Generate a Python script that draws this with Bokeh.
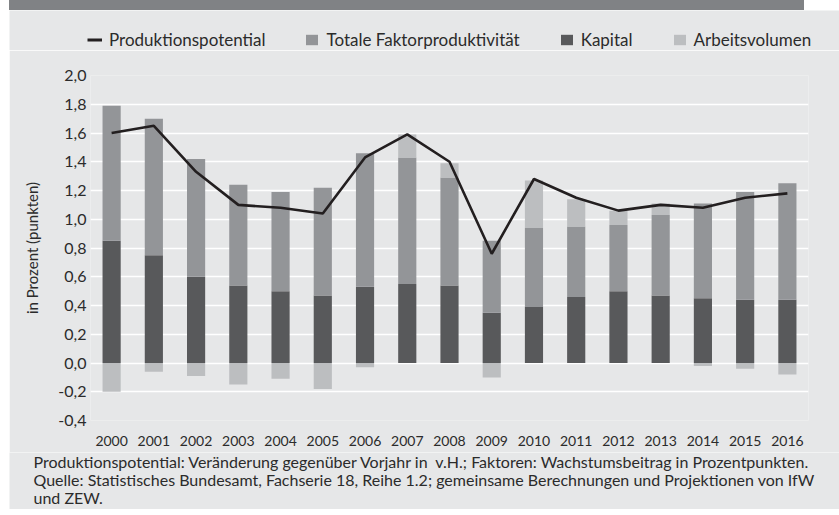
import numpy as np
from bokeh.plotting import figure
from bokeh.layouts import column
from bokeh.models import (Range1d, FactorRange, FixedTicker, CustomJSTickFormatter,
                          Legend, LegendItem, Label, Div, ColumnDataSource)
from bokeh.embed import file_html
from bokeh.resources import INLINE

years = ["2000", "2001", "2002", "2003", "2004", "2005", "2006", "2007", "2008",
         "2009", "2010", "2011", "2012", "2013", "2014", "2015", "2016"]
potential = [1.60, 1.65, 1.33, 1.10, 1.08, 1.04, 1.43, 1.59, 1.40,
             0.76, 1.28, 1.15, 1.06, 1.10, 1.08, 1.15, 1.18]
kapital = [0.85, 0.75, 0.60, 0.54, 0.50, 0.47, 0.53, 0.55, 0.54,
           0.35, 0.39, 0.46, 0.50, 0.47, 0.45, 0.44, 0.44]
tfp = [0.94, 0.95, 0.82, 0.70, 0.69, 0.75, 0.93, 0.88, 0.75,
       0.50, 0.55, 0.49, 0.46, 0.56, 0.66, 0.75, 0.81]
arbeit = [-0.20, -0.06, -0.09, -0.15, -0.11, -0.18, -0.03, 0.16, 0.10,
          -0.10, 0.33, 0.19, 0.10, 0.08, -0.02, -0.04, -0.08]
y_ticks = [-0.4, -0.2, 0.0, 0.2, 0.4, 0.6, 0.8, 1.0, 1.2, 1.4, 1.6, 1.8, 2.0]
series_names = ["Produktionspotential", "Totale Faktorproduktivität", "Kapital", "Arbeitsvolumen"]

caption_lines = [
    "Produktionspotential: Veränderung gegenüber Vorjahr in\u00a0 v.H.; Faktoren: Wachstumsbeitrag in Prozentpunkten.",
    "Quelle: Statistisches Bundesamt, Fachserie 18, Reihe 1.2; gemeinsame Berechnungen und Projektionen von IfW",
    "und ZEW.",
]

BG = "#e6e7e8"
C_K = "#58595b"
C_T = "#939598"
C_A = "#bcbec0"
C_L = "#231f20"
TXT = "#2b2b2b"
FONT = "Lato"
FIG_W = 830
LEFT_PAD = (0, 0, 0, 9)


def blank_fig(height):
    f = figure(width=FIG_W, height=height, x_range=Range1d(0, FIG_W), y_range=Range1d(0, height),
               x_axis_type=None, y_axis_type=None, output_backend="svg", toolbar_location=None,
               min_border=0, margin=LEFT_PAD, frame_align=False)
    f.background_fill_color = BG
    f.border_fill_color = BG
    f.outline_line_color = None
    f.xgrid.visible = False
    f.ygrid.visible = False
    return f


# ---- legend strip (swatch renderers sit outside the visible range) ----
leg_fig = blank_fig(40)
d_l = leg_fig.line(x=[-60, -50], y=[-60, -60], line_color=C_L, line_width=3)
d_t = leg_fig.vbar(x=[-60], bottom=[-60], top=[-50], width=5, fill_color=C_T, line_color=None)
d_k = leg_fig.vbar(x=[-60], bottom=[-60], top=[-50], width=5, fill_color=C_K, line_color=None)
d_a = leg_fig.vbar(x=[-60], bottom=[-60], top=[-50], width=5, fill_color=C_A, line_color=None)
legend = Legend(items=[LegendItem(label=n, renderers=[r]) for n, r in
                       zip(series_names, [d_l, d_t, d_k, d_a])],
                orientation="horizontal", location=(78, 0), glyph_width=15, glyph_height=13,
                label_standoff=7, spacing=39, padding=0, margin=0, border_line_color=None,
                background_fill_alpha=0, label_text_font=FONT, label_text_font_size="17px",
                label_text_color=TXT)
leg_fig.add_layout(legend)

# ---- main chart ----
k = np.array(kapital)
t = np.array(tfp)
a = np.array(arbeit)
src = ColumnDataSource(dict(
    x=years,
    k_top=k,
    t_bot=k,
    t_top=k + t,
    a_bot=np.where(a >= 0, k + t, a),
    a_top=np.where(a >= 0, k + t + a, 0.0),
    pot=potential,
))

p = figure(width=FIG_W, height=402, x_range=FactorRange(*years), y_range=Range1d(-0.4, 2.0),
           output_backend="svg", toolbar_location=None,
           min_border_left=81, min_border_right=31, min_border_top=25, min_border_bottom=32,
           margin=LEFT_PAD, frame_align=False)
p.background_fill_color = BG
p.border_fill_color = BG
p.outline_line_color = None

W = 0.43
p.vbar(x="x", bottom=0, top="k_top", width=W, source=src, fill_color=C_K, line_color=None)
p.vbar(x="x", bottom="t_bot", top="t_top", width=W, source=src, fill_color=C_T, line_color=None)
p.vbar(x="x", bottom="a_bot", top="a_top", width=W, source=src, fill_color=C_A, line_color=None)
p.line(x="x", y="pot", source=src, line_color=C_L, line_width=2.6)

p.xgrid.grid_line_color = None
p.ygrid.grid_line_color = "white"
p.ygrid.grid_line_width = 1.3
p.ygrid.ticker = FixedTicker(ticks=y_ticks)

p.yaxis.ticker = FixedTicker(ticks=y_ticks)
p.yaxis.formatter = CustomJSTickFormatter(code="return tick.toFixed(1).replace('.', ',');")
for ax in (p.xaxis[0], p.yaxis[0]):
    ax.axis_line_color = None
    ax.major_tick_line_color = None
    ax.minor_tick_line_color = None
    ax.major_tick_in = 0
    ax.major_tick_out = 0
    ax.major_label_text_font = FONT
    ax.major_label_text_color = TXT
p.yaxis.major_label_text_font_size = "16px"
p.yaxis.major_label_standoff = 4
p.xaxis.major_label_text_font_size = "14px"
p.xaxis.major_label_standoff = 15
p.yaxis.axis_label = "in Prozent (punkten)"
p.yaxis.axis_label_text_font = FONT
p.yaxis.axis_label_text_font_size = "15px"
p.yaxis.axis_label_text_font_style = "normal"
p.yaxis.axis_label_text_color = TXT
p.yaxis.axis_label_standoff = 14

# ---- caption strip ----
cap_fig = blank_fig(57)
for line, yy in zip(caption_lines, [48, 30, 12]):
    cap_fig.add_layout(Label(x=24, y=yy, text=line, text_align="left", text_baseline="middle",
                             text_font=FONT, text_font_size="16px", text_color=TXT))

header = Div(text="", width=795, height=10, margin=LEFT_PAD,
             styles={"background-color": "#808285"})

layout = column(header, leg_fig, p, cap_fig, spacing=0)
open("out.html", "w").write(file_html(layout, INLINE))
